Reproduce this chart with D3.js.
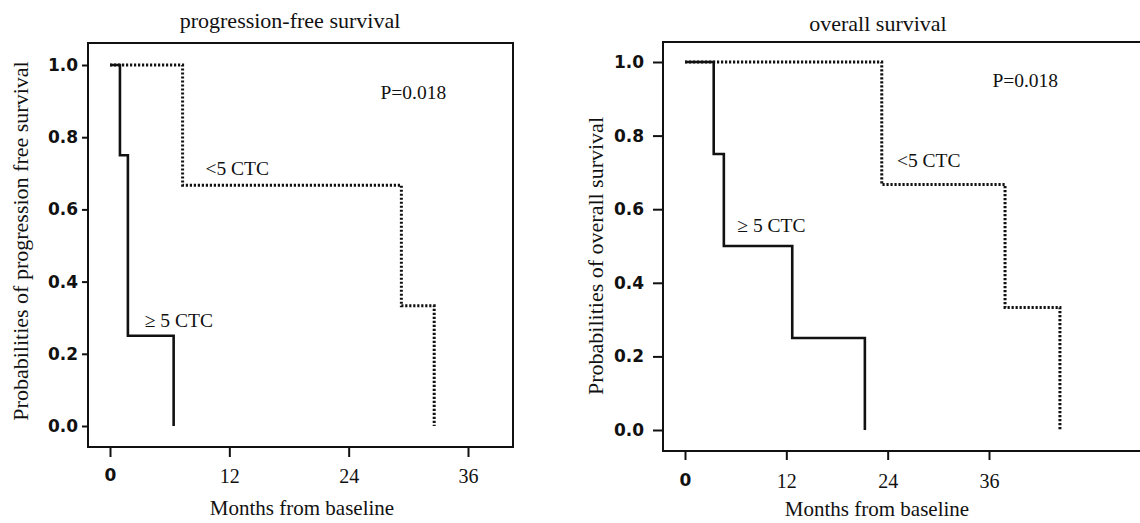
<!DOCTYPE html>
<head>
<meta charset="utf-8">
<title>Kaplan-Meier curves by CTC count</title>
<script type="text/javascript" src="https://d3js.org/d3.v7.min.js"></script>
<style>
  body { margin: 0; background: #fff; }
  svg { display: block; }
</style>
</head>

<body>
<div id="container"></div>
<script>

// months at which the curve drops, and the survival level after the drop
const pfsHighTimes = [0, 1.0, 1.8, 6.4]
const pfsHighSurv  = [1, 0.75, 0.25, 0]
const pfsLowTimes  = [0, 7.3, 29.3, 32.6]
const pfsLowSurv   = [1, 0.667, 0.333, 0]

const osHighTimes = [0, 3.4, 4.6, 12.7, 21.3]
const osHighSurv  = [1, 0.75, 0.5, 0.25, 0]
const osLowTimes  = [0, 23.3, 37.9, 44.4]
const osLowSurv   = [1, 0.667, 0.333, 0]

const xTicks = [0, 12, 24, 36]
const yTicks = [0, 0.2, 0.4, 0.6, 0.8, 1.0]

const width = 1140, height = 523
const serif = "'Liberation Serif', 'Times New Roman', serif"
const sans = "'DejaVu Sans', Verdana, sans-serif"

const svg = d3.select("div#container").append("svg")
    .attr("width", width).attr("height", height)
    .attr("viewBox", [0, 0, width, height])

// one panel = box, axes, two step curves and the labels
function panel(p) {
  const g = svg.append("g")
  const x = d3.scaleLinear().domain([0, 36]).range(p.xRange)
  const y = d3.scaleLinear().domain([0, 1]).range(p.yRange)

  g.append("rect")
    .attr("x", p.box[0]).attr("y", p.box[1])
    .attr("width", p.box[2] - p.box[0]).attr("height", p.box[3] - p.box[1])
    .attr("fill", "none").attr("stroke", "#111").attr("stroke-width", 2)

  // x axis below the box
  g.append("g")
    .attr("transform", `translate(0,${p.box[3]})`)
    .call(d3.axisBottom(x).tickValues(xTicks).tickSize(p.xTickSize).tickSizeOuter(0).tickPadding(p.xPad))
    .call(a => a.select(".domain").remove())
    .call(a => a.selectAll(".tick line").attr("stroke", "#111").attr("stroke-width", 2))
    .call(a => a.selectAll(".tick text").attr("fill", "#111")
        .style("font-family", d => d === 0 ? sans : serif)
        .style("font-weight", d => d === 0 ? "bold" : "normal")
        .style("font-size", d => d === 0 ? "17px" : "20px"))

  // y axis left of the box
  g.append("g")
    .attr("transform", `translate(${p.box[0]},0)`)
    .call(d3.axisLeft(y).tickValues(yTicks).tickFormat(d3.format(".1f"))
        .tickSize(p.yTickSize).tickSizeOuter(0).tickPadding(p.yPad))
    .call(a => a.select(".domain").remove())
    .call(a => a.selectAll(".tick line").attr("stroke", "#111").attr("stroke-width", 2))
    .call(a => a.selectAll(".tick text").attr("fill", "#111")
        .style("font-family", sans).style("font-weight", "bold").style("font-size", "17px"))

  const step = (times, surv) => {
    const pts = [[times[0], surv[0]]]
    for (let i = 1; i < times.length; i++) {
      pts.push([times[i], surv[i - 1]])
      pts.push([times[i], surv[i]])
    }
    return d3.line().x(d => x(d[0])).y(d => y(d[1]))(pts)
  }

  g.append("path").attr("d", step(p.lowT, p.lowS))
    .attr("fill", "none").attr("stroke", "#111").attr("stroke-width", 3)
    .attr("stroke-dasharray", "2.2,1.8")
  g.append("path").attr("d", step(p.highT, p.highS))
    .attr("fill", "none").attr("stroke", "#111").attr("stroke-width", 2.6)

  const txt = (t, m, s) => g.append("text")
    .attr("x", x(m)).attr("y", y(s)).attr("dy", "0.35em")
    .attr("fill", "#111").style("font-family", serif).style("font-size", "19.5px").text(t)

  txt("<5 CTC", p.lowLab[0], p.lowLab[1])
  txt("\u2265 5 CTC", p.highLab[0], p.highLab[1])
  txt("P=0.018", p.pLab[0], p.pLab[1])

  g.append("text").attr("x", p.titleX).attr("y", p.titleY)
    .attr("text-anchor", "middle").attr("fill", "#111")
    .style("font-family", serif).style("font-size", "22px").text(p.title)

  g.append("text").attr("x", p.xLabX).attr("y", p.xLabY)
    .attr("text-anchor", "middle").attr("fill", "#111")
    .style("font-family", serif).style("font-size", "21px").text("Months from baseline")

  g.append("text")
    .attr("transform", `translate(${p.yLabX},${p.yLabY}) rotate(-90)`)
    .attr("text-anchor", "middle").attr("dy", "0.35em").attr("fill", "#111")
    .style("font-family", serif).style("font-size", "22px").text(p.yLabel)
}

panel({
  title: "progression-free survival", titleX: 290, titleY: 28,
  yLabel: "Probabilities of progression free  survival", yLabX: 20, yLabY: 241,
  xLabX: 302, xLabY: 515,
  box: [88, 43, 513, 447], xRange: [110, 468], yRange: [426, 65],
  xTickSize: 10, xPad: 12, yTickSize: 6, yPad: 4,
  highT: pfsHighTimes, highS: pfsHighSurv, lowT: pfsLowTimes, lowS: pfsLowSurv,
  lowLab: [9.6, 0.715], highLab: [3.5, 0.294], pLab: [27.2, 0.925]
})

panel({
  title: "overall survival", titleX: 878, titleY: 31,
  yLabel: "Probabilities of overall survival", yLabX: 595, yLabY: 256,
  xLabX: 877, xLabY: 516,
  box: [663, 42, 1150, 451], xRange: [685, 989], yRange: [430, 62],
  xTickSize: 9, xPad: 14, yTickSize: 10, yPad: 9,
  highT: osHighTimes, highS: osHighSurv, lowT: osLowTimes, lowS: osLowSurv,
  lowLab: [25.1, 0.734], highLab: [6.2, 0.557], pLab: [36.4, 0.951]
})

</script>
</body>
